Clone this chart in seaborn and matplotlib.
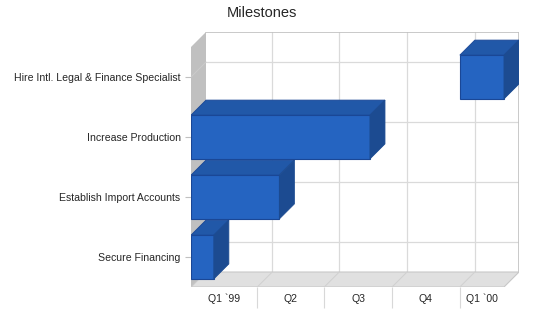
import pandas as pd
import seaborn as sns
import matplotlib.pyplot as plt
from matplotlib.patches import Polygon

# Milestone data (top to bottom as shown)
tasks = ['Hire Intl. Legal & Finance Specialist', 'Increase Production',
         'Establish Import Accounts', 'Secure Financing']
start_dates = ['2000-01-01', '1999-01-01', '1999-01-01', '1999-01-01']
end_dates = ['2000-03-01', '1999-09-01', '1999-05-01', '1999-02-01']
quarter_starts = ['1999-01-01', '1999-04-01', '1999-07-01', '1999-10-01', '2000-01-01']
quarter_labels = ['Q1 `99', 'Q2', 'Q3', 'Q4', 'Q1 `00']
axis_end = '2000-03-01'

origin = pd.Timestamp('1999-01-01')
df = pd.DataFrame({'task': tasks,
                   'start': [(pd.Timestamp(d) - origin).days for d in start_dates],
                   'end': [(pd.Timestamp(d) - origin).days for d in end_dates]})
q_pos = [(pd.Timestamp(d) - origin).days for d in quarter_starts]
xmax = (pd.Timestamp(axis_end) - origin).days

sns.set_style('white')
plt.rcParams['font.family'] = ['Liberation Sans', 'DejaVu Sans']

fig = plt.figure(figsize=(5.5, 3.18), dpi=100)
W, H = 550, 318
ax = fig.add_axes([191 / W, (H - 287) / H, (519 - 191) / W, (287 - 32) / H])

# depth offset in data units (about 15 px each way)
dx = 15 / ((519 - 191) - 15) * xmax
dy = 0.25

front = '#2564c1'
top_c = '#2158a8'
side_c = '#1c4b91'
edge_c = '#1a4796'
grid_c = '#dadada'
wall_c = '#c0c0c0'
floor_c = '#e0e0e0'

n = len(tasks)
ybot, ytop = n - 0.5, -0.5

# back wall gridlines
for q in q_pos[1:]:
    ax.plot([q + dx, q + dx], [ybot - dy, ytop - dy], color=grid_c, lw=0.9, zorder=1)
    ax.plot([q, q + dx], [ybot, ybot - dy], color='#d0d0d0', lw=0.7, zorder=2.5)
for i in range(n):
    ax.plot([dx, xmax + dx], [i - dy, i - dy], color=grid_c, lw=0.9, zorder=1)
    ax.plot([0, dx], [i, i - dy], color='#cacaca', lw=0.7, zorder=2.5)
# back wall border
ax.plot([dx, xmax + dx, xmax + dx], [ytop - dy, ytop - dy, ybot - dy], color=wall_c, lw=1.2, zorder=1)

# left wall and floor
ax.add_patch(Polygon([(0, ytop), (dx, ytop - dy), (dx, ybot - dy), (0, ybot)],
                     closed=True, facecolor=wall_c, edgecolor='none', zorder=2))
ax.add_patch(Polygon([(0, ybot), (xmax, ybot), (xmax + dx, ybot - dy), (dx, ybot - dy)],
                     closed=True, facecolor=floor_c, edgecolor='#c8c8c8', lw=0.8, zorder=2))

# bars: draw end values with seaborn, then move them to start at their start date
sns.barplot(data=df, x='end', y='task', order=tasks, color=front, width=0.73,
            saturation=1, edgecolor=edge_c, linewidth=0.8, ax=ax, zorder=3)
for patch, s, e in zip(ax.patches[-n:], df['start'], df['end']):
    patch.set_x(s)
    patch.set_width(e - s)
    x0, y0 = patch.get_x(), patch.get_y()
    x1, y1 = x0 + patch.get_width(), y0 + patch.get_height()
    ax.add_patch(Polygon([(x0, y0), (x1, y0), (x1 + dx, y0 - dy), (x0 + dx, y0 - dy)],
                         closed=True, facecolor=top_c, edgecolor=edge_c, lw=0.6, zorder=3))
    ax.add_patch(Polygon([(x1, y0), (x1 + dx, y0 - dy), (x1 + dx, y1 - dy), (x1, y1)],
                         closed=True, facecolor=side_c, edgecolor=side_c, lw=0.6, zorder=3))

ax.set_xlim(0, xmax + dx)
ax.set_ylim(ybot, ytop - dy)
sns.despine(ax=ax, left=True, bottom=True)
ax.set_xlabel('')
ax.set_ylabel('')

# category axis
ax.tick_params(axis='y', length=4.5, width=0.8, color=wall_c, pad=3, labelsize=7.6, left=True)

# quarter axis: labels centred in each quarter, separators at boundaries
bounds = q_pos + [xmax]
mids = [(a + b) / 2 for a, b in zip(bounds[:-1], bounds[1:])]
ax.set_xticks(mids)
ax.set_xticklabels(quarter_labels)
ax.set_xticks(q_pos[1:], minor=True)
ax.tick_params(axis='x', which='major', length=0, pad=5, labelsize=7.6)
ax.tick_params(axis='x', which='minor', length=15, width=0.8, color='#d8d8d8', bottom=True)

fig.text(261.5 / W, 1 - 13 / H, 'Milestones', ha='center', va='center', fontsize=10.5)

fig.savefig('out.png', dpi=100)
